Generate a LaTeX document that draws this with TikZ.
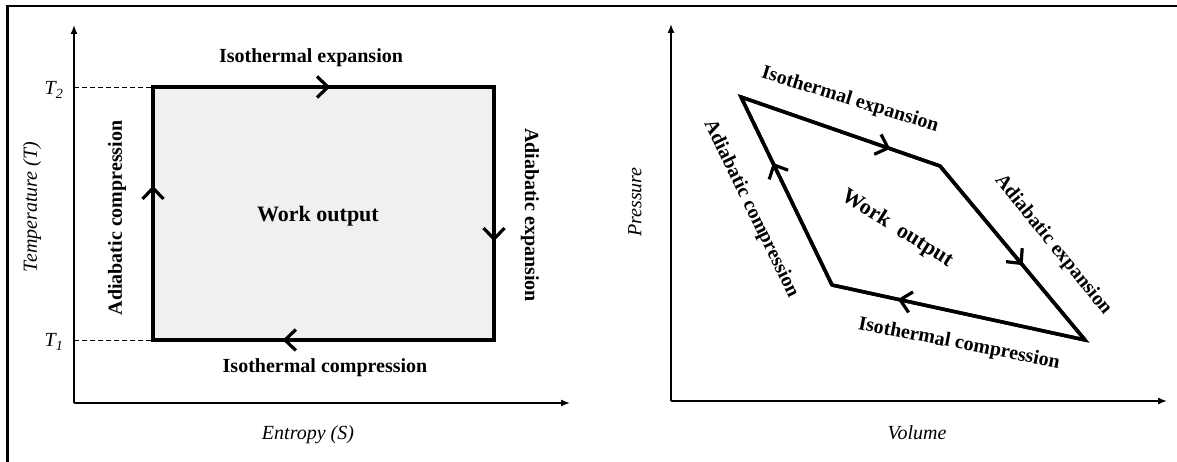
\documentclass[tikz,border=0pt]{standalone}
\usepackage{fontspec}
\setmainfont{Liberation Serif}
\usetikzlibrary{arrows.meta,decorations.markings}
\tikzset{
  lbl/.style={font=\fontsize{20}{24}\selectfont\bfseries, inner sep=0pt},
  biglbl/.style={font=\fontsize{22}{26}\selectfont\bfseries, inner sep=0pt},
  axlbl/.style={font=\fontsize{20}{24}\selectfont\itshape, inner sep=0pt},
  axisline/.style={line width=1.4pt, -{Latex[length=9pt,width=7pt]}},
  cycline/.style={line width=3.5pt, line join=miter},
  guide/.style={line width=0.9pt, dash pattern=on 5pt off 3pt},
  midarrow/.style={line width=3.5pt, postaction=decorate,
    decoration={markings, mark=at position #1 with {\arrow{Straight Barb[length=11pt,width=21pt,line width=3.2pt]}}}},
}
\begin{document}
\begin{tikzpicture}[x=1pt,y=-1pt]
\useasboundingbox (0,0) rectangle (1177,462);
% frame
\draw[line width=2.5pt] (7.5,462) -- (7.5,6) -- (1177,6);

% ---------- left panel ----------
\coordinate (O1) at (74,403);
\coordinate (Ytip1) at (74,25);
\coordinate (Xtip1) at (570,403);
\coordinate (S1) at (153,340);
\coordinate (S2) at (153,87);
\coordinate (S3) at (494,87);
\coordinate (S4) at (494,340);
\coordinate (Y2) at (74,87);
\coordinate (Y1) at (74,340);

\fill[black!6] (S1) -- (S2) -- (S3) -- (S4) -- cycle;
\draw[guide] (Y2) -- (S2);
\draw[guide] (Y1) -- (S1);
\draw[axisline] (O1) -- (Ytip1);
\draw[axisline] (O1) -- (Xtip1);
\draw[cycline] (S1) -- (S2) -- (S3) -- (S4) -- cycle;
\draw[midarrow=0.52] (S2) -- (S3);
\draw[midarrow=0.61] (S3) -- (S4);
\draw[midarrow=0.62] (S4) -- (S1);
\draw[midarrow=0.61] (S1) -- (S2);

\node[axlbl] (t2) at (54,90) {T\textsubscript{2}};
\node[axlbl] (t1) at (54,342) {T\textsubscript{1}};
\node[axlbl, rotate=90] (tlab) at (32,207) {Temperature (T)};
\node[axlbl] (slab) at (308,435) {Entropy (S)};
\node[lbl] (l1) at (311,58) {Isothermal expansion};
\node[lbl] (l2) at (325,368) {Isothermal compression};
\node[lbl, rotate=90] (l3) at (117,218) {Adiabatic compression};
\node[lbl, rotate=-90] (l4) at (530,215) {Adiabatic expansion};
\node[biglbl] (w1) at (318,216) {Work output};

% ---------- right panel ----------
\coordinate (O2) at (671,401);
\coordinate (Ytip2) at (671,24);
\coordinate (Xtip2) at (1167,401);
\coordinate (A) at (741,97);
\coordinate (B) at (940,166);
\coordinate (C) at (1085,340);
\coordinate (D) at (832,285);

\draw[axisline] (O2) -- (Ytip2);
\draw[axisline] (O2) -- (Xtip2);
\draw[cycline] (A) -- (B) -- (C) -- (D) -- cycle;
\draw[midarrow=0.75] (A) -- (B);
\draw[midarrow=0.57] (B) -- (C);
\draw[midarrow=0.74] (C) -- (D);
\draw[midarrow=0.65] (D) -- (A);

\node[axlbl, rotate=90] (plab) at (635,202) {Pressure};
\node[axlbl] (vlab) at (917,433) {Volume};
\node[lbl, rotate=-17] (r1) at (850,100) {Isothermal expansion};
\node[lbl, rotate=-51] (r2) at (1053,245) {Adiabatic expansion};
\node[lbl, rotate=-11] (r3) at (959,344) {Isothermal compression};
\node[lbl, rotate=-64] (r4) at (751,209) {Adiabatic compression};
\node[biglbl, rotate=-32] (w2) at (897,229) {Work\ \ output};
\end{tikzpicture}
\end{document}
